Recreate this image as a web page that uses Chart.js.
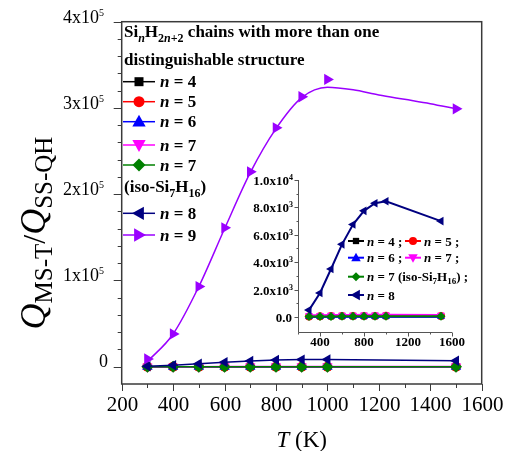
<!DOCTYPE html>
<html>
<head>
<meta charset="utf-8">
<script src="https://cdn.jsdelivr.net/npm/chart.js@4/dist/chart.umd.min.js"></script>
<style>
  html, body { margin: 0; padding: 0; background: #fff; }
  #wrap { position: relative; width: 505px; height: 451px; }
  #main { position: absolute; left: 0; top: 0; }
  #inset { position: absolute; left: 230px; top: 165px; }
</style>
</head>
<body>
<div id="wrap">
  <canvas id="main" width="505" height="451"></canvas>
  <canvas id="inset" width="250" height="190"></canvas>
</div>
<script>
// temperatures (K)
const temps = [300, 400, 500, 600, 700, 800, 900, 1000, 1500]
// Q(MS-T)/Q(SS-QH) values per chain length
const n4 = [20, 20, 25, 30, 30, 35, 35, 40, 40]
const n5 = [40, 50, 60, 60, 70, 70, 70, 80, 70]
const n6 = [5, 5, 5, 5, 5, 5, 5, 5, 5]
const n7 = [120, 130, 140, 150, 150, 160, 160, 160, 150]
const n7iso = [30, 40, 40, 50, 50, 50, 50, 50, 50]
const n8 = [500, 1750, 3500, 5300, 6750, 7750, 8300, 8450, 7000]
const n9 = [9000, 38000, 93000, 161000, 226000, 277000, 313000, 333000, 299000]
// smooth fitted curve through n = 9
const fitTemps = [300, 400, 500, 600, 700, 800, 900, 1000, 1100, 1200, 1300, 1400, 1500]
const n9Fit = [6000, 38000, 93000, 160000, 225000, 276000, 312000, 324000, 321000, 315000, 310000, 305000, 299000]

// axis ticks
const mainXMajor = [200, 400, 600, 800, 1000, 1200, 1400, 1600]
const mainYMajor = [0, 100000, 200000, 300000, 400000]
const mainYLabels = [["0", ""], ["1x10", "5"], ["2x10", "5"], ["3x10", "5"], ["4x10", "5"]]
const insetXMajor = [400, 800, 1200, 1600]
const insetYMajor = [0, 2000, 4000, 6000, 8000, 10000]
const insetYLabels = [["0.0", ""], ["2.0x10", "3"], ["4.0x10", "3"], ["6.0x10", "3"], ["8.0x10", "3"], ["1.0x10", "4"]]

const BLACK = "#000000", RED = "#ff0000", BLUE = "#0000ff", MAGENTA = "#ff00ff"
const GREEN = "#008000", NAVY = "#000080", PURPLE = "#9a00ff"
const SERIF = "'Liberation Serif', 'Times New Roman', serif"

const pts = (xs, ys) => xs.map((x, i) => ({ x: x, y: ys[i] }))

// draw a run of text pieces: [text, font, dy]
function drawRich(ctx, parts, x, y, align) {
  let w = 0
  parts.forEach((p) => { ctx.font = p[1]; w += ctx.measureText(p[0]).width })
  let cx = align === "right" ? x - w : align === "center" ? x - w / 2 : x
  ctx.textAlign = "left"
  ctx.textBaseline = "alphabetic"
  parts.forEach((p) => {
    ctx.font = p[1]
    ctx.fillText(p[0], cx, y + (p[2] || 0))
    cx += ctx.measureText(p[0]).width
  })
  return w
}

function drawMarker(ctx, shape, x, y, r, color, rot) {
  ctx.save()
  ctx.fillStyle = color
  ctx.translate(x, y)
  ctx.rotate(((rot || 0) * Math.PI) / 180)
  ctx.beginPath()
  if (shape === "rect") {
    const s = r * 0.9
    ctx.rect(-s, -s, 2 * s, 2 * s)
  } else if (shape === "circle") {
    ctx.arc(0, 0, r, 0, Math.PI * 2)
  } else if (shape === "rectRot") {
    ctx.moveTo(0, -r); ctx.lineTo(r, 0); ctx.lineTo(0, r); ctx.lineTo(-r, 0)
  } else {
    ctx.moveTo(0, -r); ctx.lineTo(r * 0.95, r * 0.7); ctx.lineTo(-r * 0.95, r * 0.7)
  }
  ctx.closePath()
  ctx.fill()
  ctx.restore()
}

function legendLine(ctx, x1, x2, y, color, shape, r, rot, lw) {
  ctx.strokeStyle = color
  ctx.lineWidth = lw
  ctx.beginPath(); ctx.moveTo(x1, y); ctx.lineTo(x2, y); ctx.stroke()
  drawMarker(ctx, shape, (x1 + x2) / 2, y, r, color, rot)
}

function series(label, xs, ys, color, style, rot, radius, lw, extra) {
  return Object.assign({
    label: label,
    data: pts(xs, ys),
    borderColor: color,
    backgroundColor: color,
    pointBackgroundColor: color,
    pointBorderColor: color,
    pointBorderWidth: 0,
    pointStyle: style,
    rotation: rot,
    pointRadius: radius,
    borderWidth: lw,
    tension: 0,
    clip: false,
  }, extra || {})
}

const mainDecor = {
  id: "mainDecor",
  afterDraw(chart) {
    const ctx = chart.ctx
    const a = chart.chartArea
    const xs = chart.scales.x, ys = chart.scales.y
    ctx.save()
    // frame
    ctx.strokeStyle = "#3a3a3a"
    ctx.lineWidth = 1.5
    ctx.strokeRect(a.left, a.top, a.right - a.left, a.bottom - a.top)
    // x ticks
    ctx.lineWidth = 1
    for (let v = 300; v < 1600; v += 200) {
      const px = Math.round(xs.getPixelForValue(v)) + 0.5
      ctx.beginPath(); ctx.moveTo(px, a.bottom); ctx.lineTo(px, a.bottom + 4); ctx.stroke()
    }
    ctx.fillStyle = "#000"
    mainXMajor.forEach((v) => {
      const px = Math.round(xs.getPixelForValue(v)) + 0.5
      ctx.beginPath(); ctx.moveTo(px, a.bottom); ctx.lineTo(px, a.bottom + 7); ctx.stroke()
      drawRich(ctx, [[String(v), "21px " + SERIF]], px, 411, "center")
    })
    // y ticks
    for (let v = 20000; v < 400000; v += 20000) {
      if (v % 100000 === 0) continue
      const py = Math.round(ys.getPixelForValue(v)) + 0.5
      ctx.beginPath(); ctx.moveTo(a.left, py); ctx.lineTo(a.left - 4, py); ctx.stroke()
    }
    mainYMajor.forEach((v, i) => {
      const py = Math.round(ys.getPixelForValue(v)) + 0.5
      ctx.beginPath(); ctx.moveTo(a.left, py); ctx.lineTo(a.left - 8, py); ctx.stroke()
      const lab = mainYLabels[i]
      if (lab[1]) {
        drawRich(ctx, [[lab[0], "18px " + SERIF], [lab[1], "10px " + SERIF, -7]], 104, py + 0.5, "right")
      } else {
        drawRich(ctx, [[lab[0], "18px " + SERIF]], 108, py - 1, "right")
      }
    })
    // x title
    drawRich(ctx, [["T", "italic 23px " + SERIF], [" (K)", "23px " + SERIF]], (a.left + a.right) / 2, 447, "center")
    // y title
    ctx.save()
    ctx.translate(45, 233)
    ctx.rotate(-Math.PI / 2)
    drawRich(ctx, [
      ["Q", "italic 36px " + SERIF], ["MS-T", "25px " + SERIF, 7],
      ["/", "32px " + SERIF],
      ["Q", "italic 36px " + SERIF], ["SS-QH", "25px " + SERIF, 7],
    ], 0, 0, "center")
    ctx.restore()

    // legend
    const B = "bold 17px " + SERIF, BI = "italic bold 17px " + SERIF
    const SB = "bold 12px " + SERIF, SBI = "italic bold 12px " + SERIF
    ctx.fillStyle = "#000"
    drawRich(ctx, [["Si", B], ["n", SBI, 5], ["H", B], ["2", SB, 5], ["n", SBI, 5], ["+2", SB, 5],
      [" chains with more than one", B]], 124, 37, "left")
    drawRich(ctx, [["distinguishable structure", B]], 124, 65, "left")
    const rows = [
      [81.7, BLACK, "rect", 5, 0, "4"],
      [101.7, RED, "circle", 5.5, 0, "5"],
      [121.7, BLUE, "tri", 7, 0, "6"],
      [145, MAGENTA, "tri", 7, 180, "7"],
      [165, GREEN, "rectRot", 6.5, 0, "7"],
      [213.3, NAVY, "tri", 7, -90, "8"],
      [235, PURPLE, "tri", 7, 90, "9"],
    ]
    rows.forEach((r) => {
      legendLine(ctx, 123, 155, r[0], r[1], r[2], r[3], r[4], 1.5)
      ctx.fillStyle = "#000"
      drawRich(ctx, [["n", BI], [" = " + r[5], B]], 160, r[0] + 5.5, "left")
    })
    drawRich(ctx, [["(iso-Si", B], ["7", SB, 5], ["H", B], ["16", SB, 5], [")", B]], 124, 192, "left")
    ctx.restore()
  },
}

new Chart(document.getElementById("main"), {
  type: "line",
  data: {
    datasets: [
      series("n = 9", temps, n9, PURPLE, "triangle", 90, 6.5, 1.5, { showLine: false }),
      series("n = 9 fit", fitTemps, n9Fit, PURPLE, "circle", 0, 0, 1.5, { cubicInterpolationMode: "monotone" }),
      series("n = 8", temps, n8, NAVY, "triangle", -90, 6, 1.5),
      series("n = 7 (iso)", temps, n7iso, GREEN, "rectRot", 0, 6, 1.5),
      series("n = 7", temps, n7, MAGENTA, "triangle", 180, 6, 1.5),
      series("n = 6", temps, n6, BLUE, "triangle", 0, 6, 1.5),
      series("n = 5", temps, n5, RED, "circle", 0, 5, 1.5),
      series("n = 4", temps, n4, BLACK, "rect", 0, 5, 1.5),
    ],
  },
  options: {
    responsive: false,
    animation: false,
    layout: { padding: { left: 121.7, right: 23.3, top: 21.7, bottom: 67 } },
    scales: {
      x: { type: "linear", min: 200, max: 1600, display: false },
      y: { type: "linear", min: -20000, max: 400000, display: false },
    },
    plugins: { legend: { display: false }, tooltip: { enabled: false } },
  },
  plugins: [mainDecor],
})

const insetDecor = {
  id: "insetDecor",
  afterDraw(chart) {
    const ctx = chart.ctx
    const a = chart.chartArea
    const xs = chart.scales.x, ys = chart.scales.y
    const F = "bold 13px " + SERIF, FS = "bold 8px " + SERIF
    ctx.save()
    ctx.strokeStyle = "#555"
    ctx.lineWidth = 1
    const lx = Math.round(a.left) + 0.5, by = Math.round(a.bottom) + 0.5
    ctx.beginPath(); ctx.moveTo(lx, a.top); ctx.lineTo(lx, by); ctx.lineTo(a.right, by); ctx.stroke()
    ctx.fillStyle = "#000"
    for (let v = 1000; v < 10000; v += 2000) {
      const py = Math.round(ys.getPixelForValue(v)) + 0.5
      ctx.beginPath(); ctx.moveTo(lx, py); ctx.lineTo(lx - 2, py); ctx.stroke()
    }
    insetYMajor.forEach((v, i) => {
      const py = Math.round(ys.getPixelForValue(v)) + 0.5
      ctx.beginPath(); ctx.moveTo(lx, py); ctx.lineTo(lx - 4, py); ctx.stroke()
      const lab = insetYLabels[i]
      if (lab[1]) {
        drawRich(ctx, [[lab[0], F], [lab[1], FS, -5]], a.left - 5, py + 4.5, "right")
      } else {
        drawRich(ctx, [[lab[0], F]], a.left - 6, py + 4.5, "right")
      }
    })
    for (let v = 200; v <= 1600; v += 200) {
      const px = Math.round(xs.getPixelForValue(v)) + 0.5
      const major = v % 400 === 0
      ctx.beginPath(); ctx.moveTo(px, by); ctx.lineTo(px, by + (major ? 4 : 2)); ctx.stroke()
    }
    insetXMajor.forEach((v) => {
      const px = xs.getPixelForValue(v)
      drawRich(ctx, [[String(v), F]], px, 181, "center")
    })

    // inset legend
    const FI = "italic bold 13px " + SERIF, SUB = "bold 9px " + SERIF
    const items = [
      [118, 76, BLACK, "rect", 3.5, 0, "4 ;"],
      [175, 76, RED, "circle", 4, 0, "5 ;"],
      [118, 92.7, BLUE, "tri", 5, 0, "6 ;"],
      [175, 92.7, MAGENTA, "tri", 5, 180, "7 ;"],
      [118, 111.7, GREEN, "rectRot", 4.5, 0, null],
      [118, 130, NAVY, "tri", 5.5, -90, "8"],
    ]
    items.forEach((it) => {
      legendLine(ctx, it[0], it[0] + 16, it[1], it[2], it[3], it[4], it[5], 2)
      ctx.fillStyle = "#000"
      if (it[6]) {
        drawRich(ctx, [["n", FI], [" = " + it[6], F]], it[0] + 19, it[1] + 4.5, "left")
      } else {
        drawRich(ctx, [["n", FI], [" = 7 (iso-Si", F], ["7", SUB, 3], ["H", F], ["16", SUB, 3], [") ;", F]],
          it[0] + 19, it[1] + 4.5, "left")
      }
    })
    ctx.restore()
  },
}

new Chart(document.getElementById("inset"), {
  type: "line",
  data: {
    datasets: [
      series("n = 8", temps, n8, NAVY, "triangle", -90, 5, 2),
      series("n = 7 (iso)", temps, n7iso, GREEN, "rectRot", 0, 4.5, 2),
      series("n = 7", temps, n7, MAGENTA, "triangle", 180, 4.5, 2),
      series("n = 6", temps, n6, BLUE, "triangle", 0, 4.5, 2),
      series("n = 5", temps, n5, RED, "circle", 0, 4, 2),
      series("n = 4", temps, n4, BLACK, "rect", 0, 4, 2),
    ],
  },
  options: {
    responsive: false,
    animation: false,
    layout: { padding: { left: 68, right: 28, top: 15, bottom: 23 } },
    scales: {
      x: { type: "linear", min: 200, max: 1600, display: false },
      y: { type: "linear", min: -1100, max: 10000, display: false },
    },
    plugins: { legend: { display: false }, tooltip: { enabled: false } },
  },
  plugins: [insetDecor],
})
</script>
</body>
</html>
